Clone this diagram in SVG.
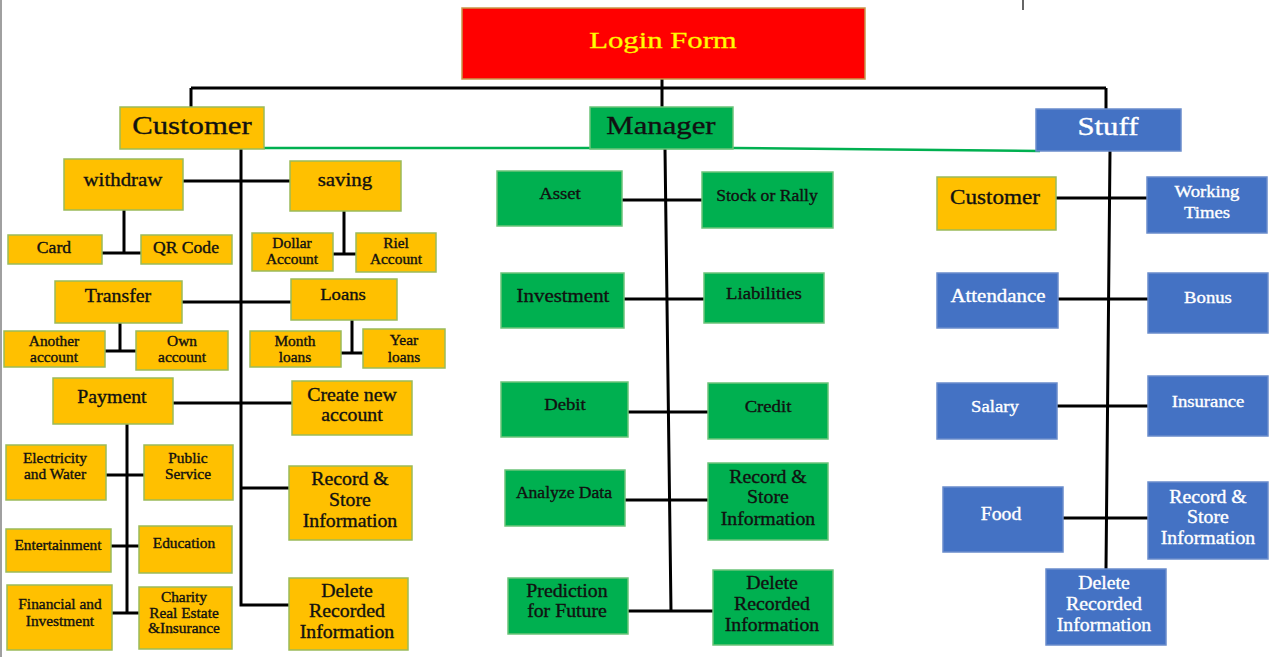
<svg xmlns="http://www.w3.org/2000/svg" width="1280" height="657" viewBox="0 0 1280 657">
<style>
text { font-family: "Liberation Serif", "Times New Roman", serif; text-anchor: middle; fill: #111; stroke: #111; stroke-width: 0.35px; transform-box: fill-box; transform-origin: center; transform: scaleX(1.1); }
.title { font-size: 25px; transform: scaleX(1.23); }
.login { font-size: 24px; fill: #FFFF00; stroke: #FFEA00; transform: scaleX(1.28); }
.w { fill: #FFFFFF; stroke: #FFFFFF; }
.y { fill: #FFC000; stroke: #9BBB59; stroke-width: 1.5; }
.g { fill: #00B050; stroke: #6CC47A; stroke-width: 1.5; }
.b { fill: #4472C4; stroke: #6A8CCB; stroke-width: 1.5; }
.r { fill: #FF0000; stroke: #C8964B; stroke-width: 1.5; }
.c { fill: none; stroke: #000; stroke-width: 3; }
.f14 { font-size: 14px; } .f16 { font-size: 16px; } .f17 { font-size: 17px; } .f18 { font-size: 18px; } .f19 { font-size: 19px; } .f21 { font-size: 21px; }
</style>
<rect x="0" y="0" width="1280" height="657" fill="#FFFFFF"/>
<rect x="0" y="0" width="2" height="657" fill="#A0A0A0"/>
<line x1="1023" y1="0" x2="1023" y2="10" stroke="#333" stroke-width="1.5"/>

<g id="connectors">
  <path d="M264,148 L733,148 L1040,151" fill="none" stroke="#00B050" stroke-width="2.5"/>
  <path class="c" d="M662,79 V88 M191,88 H1106 M191,88 V107 M662,88 V107 M1106,88 V109" stroke-width="3.5"/>
  <!-- customer -->
  <path class="c" d="M241,149 V605 H289 M183,181 H290 M124,210 V253 M102,253 H141 M344,211 V254 M333,254 H356 M182,302 H291 M120,323 V351 M105,351 H136 M352,320 V353 M341,353 H363 M173,403 H292 M127,424 V613 M106,475 H144 M111,546 H139 M112,613 H139 M241,488 H289"/>
  <!-- manager -->
  <path class="c" d="M665,149 L671,611 M622,200 H702 M624,299 H704 M628,412 H708 M625,500 H708 M628,611 H713"/>
  <!-- stuff -->
  <path class="c" d="M1110,151 L1106,569 M1056,198 H1147 M1058,299 H1148 M1057,406 H1148 M1063,518 H1148"/>
</g>

<g id="login"><rect class="r" x="462" y="8" width="403" height="71"/><text class="login" x="663" y="48">Login Form</text></g>

<g id="customer"><rect class="y" x="120" y="107" width="144" height="42"/><text class="title" x="192" y="134">Customer</text></g>
<g id="manager"><rect class="g" x="590" y="107" width="143" height="42"/><text class="title" x="661" y="134">Manager</text></g>
<g id="stuff"><rect class="b" x="1036" y="109" width="145" height="42"/><text class="title w" x="1108" y="135">Stuff</text></g>

<!-- Customer branch -->
<g id="withdraw"><rect class="y" x="64" y="159" width="119" height="51"/><text class="f19" x="123" y="186">withdraw</text></g>
<g id="saving"><rect class="y" x="290" y="161" width="111" height="50"/><text class="f19" x="345" y="186">saving</text></g>
<g id="card"><rect class="y" x="8" y="235" width="94" height="29"/><text class="f16" x="54" y="253">Card</text></g>
<g id="qrcode"><rect class="y" x="141" y="235" width="91" height="29"/><text class="f16" x="186" y="253">QR Code</text></g>
<g id="dollar"><rect class="y" x="252" y="233" width="81" height="38"/><text class="f14" x="292" y="248">Dollar<tspan x="292" y="264">Account</tspan></text></g>
<g id="riel"><rect class="y" x="356" y="233" width="80" height="39"/><text class="f14" x="396" y="248">Riel<tspan x="396" y="264">Account</tspan></text></g>
<g id="transfer"><rect class="y" x="55" y="281" width="127" height="42"/><text class="f18" x="118" y="302">Transfer</text></g>
<g id="loans"><rect class="y" x="291" y="279" width="106" height="41"/><text class="f17" x="343" y="300">Loans</text></g>
<g id="another"><rect class="y" x="4" y="331" width="101" height="36"/><text class="f14" x="54" y="346">Another<tspan x="54" y="362">account</tspan></text></g>
<g id="own"><rect class="y" x="136" y="331" width="92" height="39"/><text class="f14" x="182" y="346">Own<tspan x="182" y="362">account</tspan></text></g>
<g id="month"><rect class="y" x="250" y="331" width="91" height="36"/><text class="f14" x="295" y="346">Month<tspan x="295" y="362">loans</tspan></text></g>
<g id="year"><rect class="y" x="363" y="329" width="82" height="39"/><text class="f14" x="404" y="345">Year<tspan x="404" y="362">loans</tspan></text></g>
<g id="payment"><rect class="y" x="53" y="378" width="120" height="46"/><text class="f18" x="112" y="403">Payment</text></g>
<g id="createaccount"><rect class="y" x="292" y="381" width="120" height="54"/><text class="f18" x="352" y="401">Create new<tspan x="352" y="421">account</tspan></text></g>
<g id="electricity"><rect class="y" x="6" y="445" width="100" height="55"/><text class="f14" x="55" y="463">Electricity<tspan x="55" y="479">and Water</tspan></text></g>
<g id="public"><rect class="y" x="144" y="445" width="89" height="55"/><text class="f14" x="188" y="463">Public<tspan x="188" y="479">Service</tspan></text></g>
<g id="entertainment"><rect class="y" x="6" y="529" width="105" height="43"/><text class="f14" x="58" y="550">Entertainment</text></g>
<g id="education"><rect class="y" x="139" y="526" width="93" height="47"/><text class="f14" x="184" y="548">Education</text></g>
<g id="financial"><rect class="y" x="7" y="585" width="105" height="65"/><text class="f14" x="60" y="609">Financial and<tspan x="60" y="626">Investment</tspan></text></g>
<g id="charity"><rect class="y" x="139" y="587" width="93" height="62"/><text class="f14" x="184" y="602">Charity<tspan x="184" y="618">Real Estate</tspan><tspan x="184" y="633">&amp;Insurance</tspan></text></g>
<g id="cust-record"><rect class="y" x="289" y="466" width="123" height="74"/><text class="f18" x="350" y="485">Record &amp;<tspan x="350" y="506">Store</tspan><tspan x="350" y="527">Information</tspan></text></g>
<g id="cust-delete"><rect class="y" x="289" y="578" width="119" height="72"/><text class="f18" x="347" y="597">Delete<tspan x="347" y="617">Recorded</tspan><tspan x="347" y="638">Information</tspan></text></g>

<!-- Manager branch -->
<g id="asset"><rect class="g" x="497" y="171" width="125" height="55"/><text class="f17" x="560" y="199">Asset</text></g>
<g id="stock"><rect class="g" x="702" y="172" width="131" height="56"/><text class="f16" x="767" y="201">Stock or Rally</text></g>
<g id="investment"><rect class="g" x="501" y="273" width="123" height="55"/><text class="f19" x="563" y="302">Investment</text></g>
<g id="liabilities"><rect class="g" x="704" y="273" width="120" height="50"/><text class="f17" x="764" y="299">Liabilities</text></g>
<g id="debit"><rect class="g" x="501" y="382" width="127" height="55"/><text class="f17" x="565" y="410">Debit</text></g>
<g id="credit"><rect class="g" x="708" y="383" width="120" height="56"/><text class="f17" x="768" y="412">Credit</text></g>
<g id="analyze"><rect class="g" x="505" y="470" width="120" height="56"/><text class="f16" x="564" y="498">Analyze Data</text></g>
<g id="mgr-record"><rect class="g" x="708" y="463" width="120" height="77"/><text class="f18" x="768" y="483">Record &amp;<tspan x="768" y="503">Store</tspan><tspan x="768" y="525">Information</tspan></text></g>
<g id="prediction"><rect class="g" x="508" y="578" width="120" height="56"/><text class="f18" x="567" y="597">Prediction<tspan x="567" y="617">for Future</tspan></text></g>
<g id="mgr-delete"><rect class="g" x="713" y="570" width="120" height="75"/><text class="f18" x="772" y="589">Delete<tspan x="772" y="610">Recorded</tspan><tspan x="772" y="631">Information</tspan></text></g>

<!-- Stuff branch -->
<g id="stuff-customer"><rect class="y" x="937" y="177" width="119" height="53" stroke="#FFC000"/><text class="f21" x="995" y="204">Customer</text></g>
<g id="working"><rect class="b" x="1147" y="177" width="120" height="56"/><text class="f17 w" x="1207" y="197">Working<tspan x="1207" y="218">Times</tspan></text></g>
<g id="attendance"><rect class="b" x="937" y="273" width="121" height="55"/><text class="f19 w" x="998" y="302">Attendance</text></g>
<g id="bonus"><rect class="b" x="1148" y="273" width="120" height="60"/><text class="f17 w" x="1208" y="303">Bonus</text></g>
<g id="salary"><rect class="b" x="937" y="383" width="120" height="56"/><text class="f17 w" x="995" y="412">Salary</text></g>
<g id="insurance"><rect class="b" x="1148" y="376" width="120" height="60"/><text class="f17 w" x="1208" y="407">Insurance</text></g>
<g id="food"><rect class="b" x="943" y="487" width="120" height="65"/><text class="f18 w" x="1001" y="520">Food</text></g>
<g id="stuff-record"><rect class="b" x="1148" y="482" width="120" height="77"/><text class="f18 w" x="1208" y="503">Record &amp;<tspan x="1208" y="523">Store</tspan><tspan x="1208" y="544">Information</tspan></text></g>
<g id="stuff-delete"><rect class="b" x="1046" y="569" width="120" height="76"/><text class="f18 w" x="1104" y="589">Delete<tspan x="1104" y="610">Recorded</tspan><tspan x="1104" y="631">Information</tspan></text></g>
</svg>
